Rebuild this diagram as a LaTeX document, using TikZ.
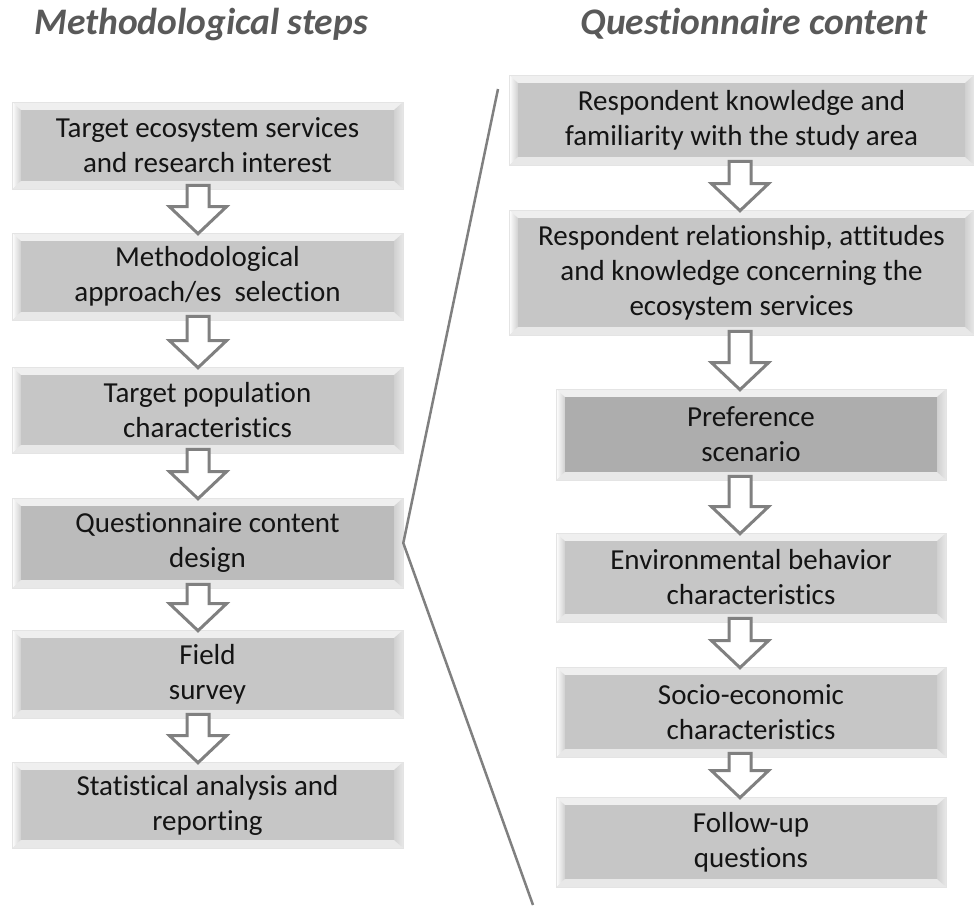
\documentclass[tikz,border=0pt]{standalone}
\usepackage{fontspec}
\setmainfont{Carlito}[Ligatures={NoCommon}]
\usetikzlibrary{calc}
\definecolor{face}{HTML}{C6C6C6}
\definecolor{facedark}{HTML}{ADADAD}
\definecolor{facemid}{HTML}{BBBBBB}
\definecolor{bevtop}{HTML}{EFEFEF}
\definecolor{bevbot}{HTML}{E8E8E8}
\definecolor{bevside}{HTML}{D0D0D0}
\definecolor{bevline}{HTML}{E4E4E4}
\definecolor{txt}{HTML}{141414}
\definecolor{ttl}{HTML}{595959}
\definecolor{arrgray}{HTML}{808080}
\newcommand\bevelfill[1]{%
  \path (path picture bounding box.north west) coordinate (bNW)
        (path picture bounding box.south east) coordinate (bSE)
        (path picture bounding box.north east) coordinate (bNE)
        (path picture bounding box.south west) coordinate (bSW);
  \path ([shift={(9pt,-8pt)}]bNW) coordinate (iNW)
        ([shift={(-9pt,-8pt)}]bNE) coordinate (iNE)
        ([shift={(-9pt,8pt)}]bSE) coordinate (iSE)
        ([shift={(9pt,8pt)}]bSW) coordinate (iSW);
  \fill[bevtop] (bNW)--(bNE)--(iNE)--(iNW)--cycle;
  \fill[bevbot] (bSW)--(bSE)--(iSE)--(iSW)--cycle;
  \shade[left color=white, right color=bevside] (bNW)--(iNW)--(iSW)--(bSW)--cycle;
  \shade[left color=bevside, right color=white!50!bevside] (bNE)--(iNE)--(iSE)--(bSE)--cycle;
  \fill[#1] (iNW) rectangle (iSE);
}
\newcommand\blockarr[3]{%
  \draw[barrow] let \p1=(#1.south), \p2=(#2.north) in
    (#3pt-11pt,\y1+4pt) -- (#3pt+11pt,\y1+4pt) -- (#3pt+11pt,\y2+26pt)
    -- (#3pt+28.5pt,\y2+26pt) -- (#3pt,\y2-1pt) -- (#3pt-28.5pt,\y2+26pt)
    -- (#3pt-11pt,\y2+26pt) -- cycle;
}
\tikzset{
  bev/.style={rectangle, inner sep=0pt, align=center, text=txt,
    font=\fontsize{29}{35}\selectfont, draw=bevline, line width=0.6pt,
    fill=white, path picture={\bevelfill{#1}}},
  bev/.default=face,
  lbox/.style={bev=#1, minimum width=391pt},
  lbox/.default=face,
  rboxw/.style={bev=#1, minimum width=465pt},
  rboxw/.default=face,
  rbox/.style={bev=#1, minimum width=390pt},
  rbox/.default=face,
  barrow/.style={draw=arrgray, fill=white, line width=3pt, line join=miter},
  ttlnode/.style={font=\fontsize{37.5}{42}\selectfont\bfseries\itshape, text=ttl, anchor=base, inner sep=0pt},
  sepline/.style={draw=arrgray, line width=2.5pt}
}
\begin{document}
\begin{tikzpicture}[x=1pt,y=-1pt]
\useasboundingbox (0,0) rectangle (974,905);
% titles
\node[ttlnode] (t1) at (201,34) {Methodological steps};
\node[ttlnode] (t2) at (754,34) {Questionnaire content};
% left column
\node[lbox, minimum height=87pt] (L1) at (207.5,145.5) {Target ecosystem services\\and research interest};
\node[lbox, minimum height=87pt] (L2) at (207.5,276.5) {Methodological\\approach/es\ \ selection};
\node[lbox, minimum height=86pt] (L3) at (207.5,410) {Target population\\characteristics};
\node[lbox=facemid, minimum height=90pt] (L4) at (207.5,543) {Questionnaire content\\design};
\node[lbox, minimum height=88pt] (L5) at (207.5,674) {Field\\survey};
\node[lbox, minimum height=86pt] (L6) at (207.5,805) {Statistical analysis and\\reporting};
% right column
\node[rboxw, minimum height=90pt] (R1) at (741.5,120) {Respondent knowledge and\\familiarity with the study area};
\node[rboxw, minimum height=125pt] (R2) at (741.5,272.5) {Respondent relationship, attitudes\\and knowledge concerning the\\ecosystem services};
\node[rbox=facedark, minimum height=91pt] (R3) at (751,434.5) {Preference\\scenario};
\node[rbox, minimum height=89pt] (R4) at (751,577.5) {Environmental behavior\\characteristics};
\node[rbox, minimum height=90pt] (R5) at (751,712) {Socio-economic\\characteristics};
\node[rbox, minimum height=90pt] (R6) at (751,842) {Follow-up\\questions};
% arrows
\blockarr{L1}{L2}{198}
\blockarr{L2}{L3}{198}
\blockarr{L3}{L4}{198}
\blockarr{L4}{L5}{198}
\blockarr{L5}{L6}{198}
\blockarr{R1}{R2}{740}
\blockarr{R2}{R3}{740}
\blockarr{R3}{R4}{740}
\blockarr{R4}{R5}{740}
\blockarr{R5}{R6}{740}
% bracket line
\coordinate (ltop) at (498,89);
\coordinate (lbot) at (533,905);
\draw[sepline] (ltop) -- (L4.east) -- (lbot);
\end{tikzpicture}
\end{document}
